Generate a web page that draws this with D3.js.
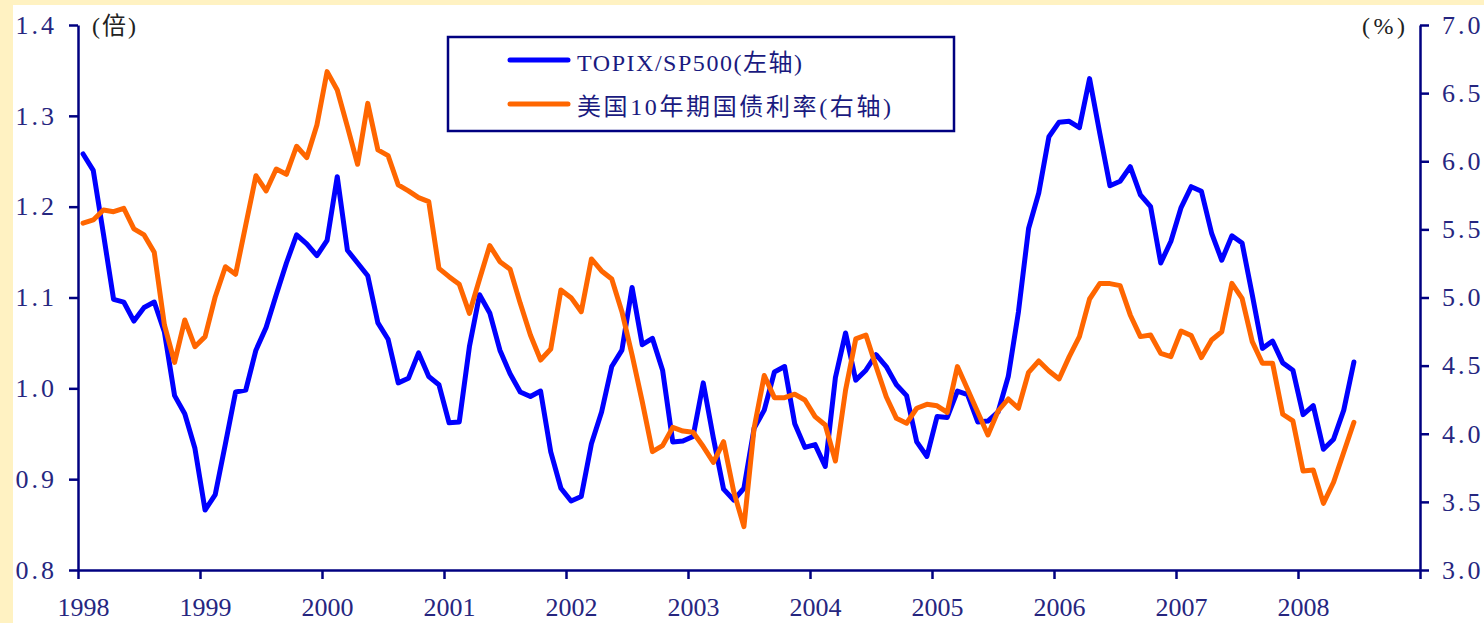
<!DOCTYPE html>
<html>
<head>
<meta charset="utf-8">
<script src="https://cdn.jsdelivr.net/npm/d3@7"></script>
<style>
body { margin: 0; background: #FFF2C2; }
svg { display: block; }
text { font-family: "Liberation Serif", "Noto Sans CJK SC", serif; }
</style>
</head>
<body>
<svg id="chart" width="1484" height="623"></svg>
<script>
// Chart data (monthly, Jan 1998 - Jun 2008)
var years = ["1998", "1999", "2000", "2001", "2002", "2003", "2004", "2005", "2006", "2007", "2008"];
var leftTicks = [0.8, 0.9, 1.0, 1.1, 1.2, 1.3, 1.4];
var rightTicks = [3.0, 3.5, 4.0, 4.5, 5.0, 5.5, 6.0, 6.5, 7.0];
var seriesNames = ["TOPIX/SP500(左轴)", "美国10年期国债利率(右轴)"];

var topixSp500 = [
    1.258, 1.240, 1.170, 1.098, 1.095, 1.074, 1.089, 1.095, 1.062, 0.992, 0.972, 0.934,
    0.866, 0.883, 0.939, 0.996, 0.998, 1.042, 1.067, 1.103, 1.138, 1.169, 1.159, 1.146,
    1.163, 1.233, 1.152, 1.138, 1.124, 1.072, 1.054, 1.006, 1.011, 1.039, 1.013, 1.004,
    0.962, 0.963, 1.046, 1.103, 1.083, 1.042, 1.016, 0.996, 0.991, 0.997, 0.930, 0.890,
    0.876, 0.881, 0.939, 0.974, 1.024, 1.042, 1.111, 1.048, 1.055, 1.020, 0.941, 0.942,
    0.947, 1.006, 0.945, 0.889, 0.877, 0.890, 0.956, 0.976, 1.018, 1.024, 0.961, 0.935,
    0.938, 0.914, 1.012, 1.061, 1.009, 1.020, 1.037, 1.024, 1.004, 0.992, 0.941, 0.925,
    0.969, 0.968, 0.997, 0.993, 0.963, 0.964, 0.974, 1.013, 1.084, 1.176, 1.215, 1.277,
    1.293, 1.294, 1.287, 1.341, 1.281, 1.223, 1.228, 1.244, 1.213, 1.200, 1.138, 1.162,
    1.199, 1.222, 1.217, 1.171, 1.141, 1.168, 1.160, 1.103, 1.044, 1.052, 1.028, 1.020,
    0.971, 0.981, 0.933, 0.944, 0.976, 1.029
];

var ust10y = [
    5.545, 5.569, 5.642, 5.630, 5.655, 5.503, 5.459, 5.332, 4.798, 4.524, 4.835, 4.639,
    4.713, 5.006, 5.226, 5.170, 5.532, 5.894, 5.782, 5.943, 5.904, 6.110, 6.026, 6.266,
    6.658, 6.523, 6.254, 5.978, 6.425, 6.083, 6.041, 5.826, 5.782, 5.733, 5.704, 5.214,
    5.153, 5.097, 4.884, 5.136, 5.381, 5.263, 5.208, 4.957, 4.725, 4.541, 4.622, 5.055,
    4.999, 4.896, 5.283, 5.195, 5.136, 4.896, 4.578, 4.236, 3.869, 3.913, 4.047, 4.020,
    4.011, 3.906, 3.790, 3.942, 3.575, 3.318, 4.040, 4.427, 4.265, 4.265, 4.290, 4.248,
    4.126, 4.064, 3.800, 4.321, 4.696, 4.725, 4.493, 4.272, 4.113, 4.077, 4.187, 4.216,
    4.205, 4.157, 4.493, 4.326, 4.157, 3.991, 4.167, 4.255, 4.187, 4.451, 4.534, 4.461,
    4.402, 4.566, 4.713, 4.989, 5.102, 5.102, 5.087, 4.872, 4.713, 4.725, 4.590, 4.566,
    4.754, 4.720, 4.559, 4.688, 4.749, 5.104, 4.994, 4.676, 4.517, 4.517, 4.143, 4.094,
    3.727, 3.734, 3.489, 3.644, 3.864, 4.084
];

var width = 1484, height = 623;
var plot = {left: 78, right: 1420, top: 25, bottom: 570};
var axisColor = "#000080", labelColor = "#262680";

var svg = d3.select("#chart");

// Background: yellow frame with white panel
svg.append("rect").attr("width", width).attr("height", height).attr("fill", "#FFF2C2");
svg.append("rect").attr("x", 13).attr("y", 5)
    .attr("width", width - 13).attr("height", height - 5).attr("fill", "#fff");

// Scales: x in months since Jan 1998
var nMonths = years.length * 12;
var x = d3.scaleLinear().domain([0, nMonths]).range([plot.left, plot.right]);
var yLeft = d3.scaleLinear().domain([0.8, 1.4]).range([plot.bottom, plot.top]);
var yRight = d3.scaleLinear().domain([3.0, 7.0]).range([plot.bottom, plot.top]);

function styleAxis(g) {
    g.select(".domain").attr("stroke", axisColor).attr("stroke-width", 2.5);
    g.selectAll(".tick line").attr("stroke", axisColor).attr("stroke-width", 2.5);
    g.selectAll(".tick text").attr("fill", labelColor).attr("font-size", 26)
        .attr("font-family", "Liberation Serif, serif");
}

// Left axis
var gLeft = svg.append("g").attr("transform", "translate(" + plot.left + ",0)")
    .call(d3.axisLeft(yLeft).tickValues(leftTicks).tickSize(9).tickSizeOuter(0)
        .tickPadding(12).tickFormat(d3.format(".1f")));
styleAxis(gLeft);
gLeft.selectAll(".tick text").attr("letter-spacing", 3);

// Right axis
var gRight = svg.append("g").attr("transform", "translate(" + plot.right + ",0)")
    .call(d3.axisRight(yRight).tickValues(rightTicks).tickSize(9).tickSizeOuter(0)
        .tickPadding(13).tickFormat(d3.format(".1f")));
styleAxis(gRight);
gRight.selectAll(".tick text").attr("letter-spacing", 3);

// Bottom axis: ticks at each January, labels centred on the January point
var yearTicks = d3.range(0, nMonths + 1, 12);
var gBottom = svg.append("g").attr("transform", "translate(0," + plot.bottom + ")")
    .call(d3.axisBottom(x).tickValues(yearTicks).tickSize(9).tickSizeOuter(0)
        .tickPadding(19).tickFormat(function (d, i) { return years[i] || ""; }));
styleAxis(gBottom);
gBottom.selectAll(".tick text").attr("dx", x(0.5) - x(0));

// Unit labels
svg.append("text").attr("x", 92).attr("y", 34).attr("font-size", 24)
    .attr("textLength", 44).attr("lengthAdjust", "spacing")
    .attr("fill", "#222").text("(倍)");
svg.append("text").attr("x", 1362).attr("y", 34).attr("font-size", 24)
    .attr("textLength", 43).attr("lengthAdjust", "spacing")
    .attr("fill", "#222").text("(%)");

// Lines
var lineLeft = d3.line()
    .x(function (d, i) { return x(i + 0.5); })
    .y(function (d) { return yLeft(d); });
var lineRight = d3.line()
    .x(function (d, i) { return x(i + 0.5); })
    .y(function (d) { return yRight(d); });

svg.append("path").datum(topixSp500).attr("d", lineLeft)
    .attr("fill", "none").attr("stroke", "#0000FF").attr("stroke-width", 5)
    .attr("stroke-linejoin", "round").attr("stroke-linecap", "round");
svg.append("path").datum(ust10y).attr("d", lineRight)
    .attr("fill", "none").attr("stroke", "#FF6600").attr("stroke-width", 5)
    .attr("stroke-linejoin", "round").attr("stroke-linecap", "round");

// Legend
var legend = svg.append("g");
legend.append("rect").attr("x", 448).attr("y", 37).attr("width", 506).attr("height", 94)
    .attr("fill", "#fff").attr("stroke", axisColor).attr("stroke-width", 2.5);
var legendColors = ["#0000FF", "#FF6600"];
var legendWidths = [225, 314];
seriesNames.forEach(function (name, i) {
    var cy = 60 + i * 44;
    legend.append("line").attr("x1", 510).attr("x2", 568).attr("y1", cy).attr("y2", cy)
        .attr("stroke", legendColors[i]).attr("stroke-width", 5).attr("stroke-linecap", "round");
    legend.append("text").attr("x", 577).attr("y", cy + 11).attr("font-size", 24)
        .attr("textLength", legendWidths[i]).attr("lengthAdjust", "spacing")
        .attr("fill", "#1a1a80").text(name);
});
</script>
</body>
</html>
